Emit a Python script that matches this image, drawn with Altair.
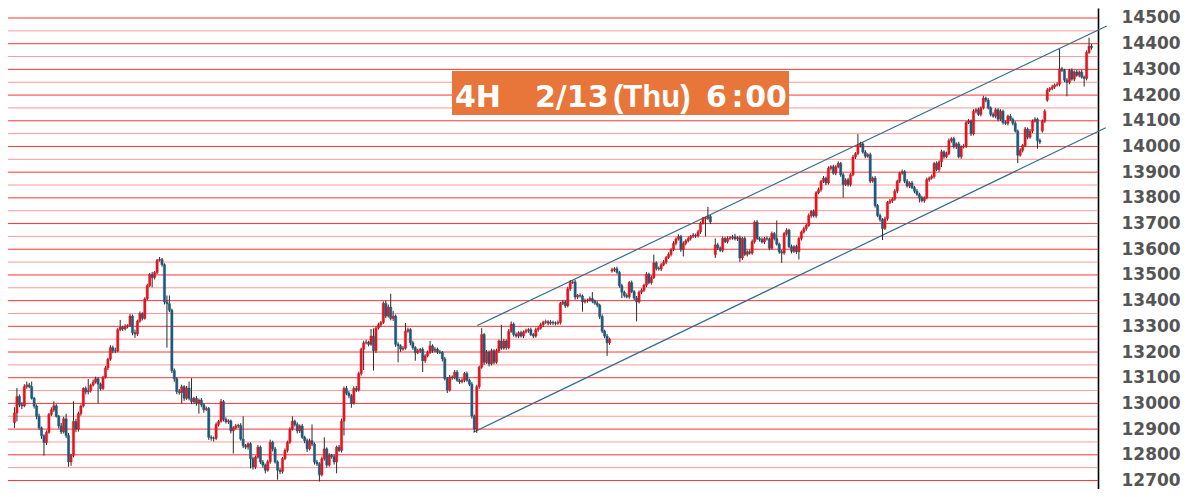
import altair as alt
import pandas as pd

# ---------------- data (4H candles) ----------------
closes = [
    12963, 13027, 12995, 12990, 13065, 13072, 13065, 13020, 12990, 12950, 12905, 12874, 12848, 12887, 12957, 12975, 12991, 12950, 12912, 12889,
    12940, 12875, 12772, 12798, 12930, 12900, 12960, 12990, 13058, 13045, 13050, 13071, 13083, 13096, 13075, 13058, 13102, 13138, 13172, 13217,
    13205, 13204, 13287, 13296, 13290, 13300, 13303, 13340, 13275, 13270, 13320, 13350, 13331, 13407, 13458, 13502, 13490, 13509, 13557, 13560,
    13540, 13395, 13388, 13363, 13128, 13096, 13046, 13042, 13065, 13020, 13060, 13020, 13007, 13020, 13001, 13013, 12995, 12976, 12980, 12868,
    12865, 12864, 12918, 12930, 13007, 12938, 12928, 12932, 12893, 12905, 12912, 12915, 12861, 12836, 12830, 12843, 12785, 12753, 12791, 12830,
    12772, 12760, 12740, 12773, 12849, 12823, 12772, 12740, 12735, 12785, 12817, 12849, 12899, 12931, 12918, 12893, 12912, 12868, 12855, 12823,
    12855, 12842, 12772, 12765, 12722, 12785, 12823, 12760, 12798, 12793, 12772, 12830, 12817, 12931, 13058, 13040, 13030, 13001, 13058, 13052,
    13116, 13211, 13236, 13238, 13230, 13262, 13205, 13293, 13306, 13315, 13389, 13340, 13375, 13331, 13340, 13230, 13224, 13211, 13215, 13281,
    13287, 13236, 13217, 13198, 13205, 13210, 13166, 13185, 13198, 13224, 13205, 13211, 13200, 13198, 13173, 13097, 13052, 13103, 13100, 13122,
    13090, 13084, 13090, 13116, 13090, 13075, 12951, 12900, 13065, 13141, 13268, 13160, 13200, 13154, 13205, 13160, 13205, 13243, 13215, 13243,
    13217, 13281, 13309, 13268, 13262, 13275, 13262, 13278, 13283, 13287, 13268, 13262, 13287, 13293, 13306, 13316, 13318, 13312, 13316, 13313,
    13312, 13315, 13389, 13395, 13380, 13446, 13471, 13473, 13414, 13420, 13418, 13395, 13400, 13402, 13408, 13398, 13390, 13382, 13338, 13281,
    13262, 13236, 13250, 13520, 13524, 13510, 13458, 13433, 13420, 13415, 13470, 13435, 13410, 13395, 13433, 13440, 13460, 13503, 13470, 13490,
    13547, 13525, 13523, 13540, 13550, 13568, 13580, 13598, 13623, 13640, 13650, 13598, 13623, 13633, 13642, 13650, 13655, 13652, 13668, 13702,
    13718, 13720, 13727, 13706, None, 13617, 13605, 13596, 13642, 13630, 13642, 13645, 13648, 13640, 13645, 13566, 13642, 13580, 13590, 13585,
    13630, 13706, 13642, 13638, 13628, 13642, 13640, 13604, 13661, 13642, 13620, 13590, 13585, 13661, 13674, 13610, 13592, 13610, 13590, 13642,
    13667, 13680, 13693, 13731, 13747, 13730, 13820, 13832, 13864, 13877, 13858, 13915, 13921, 13896, 13921, 13934, 13890, 13852, 13870, 13852,
    13890, 13959, 13972, 14004, 14010, 13978, 13962, 13968, 13865, 13877, 13770, 13731, 13715, 13681, 13719, 13782, 13788, 13795, 13826, 13865,
    13896, 13902, 13865, 13846, 13858, 13840, 13826, 13814, 13800, 13789, 13800, 13871, 13877, 13883, 13934, 13910, 13940, 13979, 13960, 13972,
    14023, 14030, 13998, 14010, 13960, 13998, 14002, 14093, 14099, 14049, 14137, 14143, 14125, 14150, 14188, 14180, 14150, 14125, 14118, 14143,
    14106, 14137, 14093, 14090, 14118, 14106, 14090, 14060, 13966, 13985, 14004, 14068, 14036, 14060, 14099, 14106, 14023, 14017, 14099, 14137,
    14220, 14225, 14232, 14239, 14242, 14302, 14296, 14258, 14250, 14296, 14262, 14290, 14277, 14290, 14270, 14265, 14366, 14391, 14385,
]

wick_up = [
    22, 33, 8, 10, 10, 13, 8, 20, 5, 6, 10, 5, 6, 8, 6, 10, 17, 6, 5, 12,
    8, 20, 10, 6, 78, 10, 8, 6, 5, 8, 45, 6, 10, 8, 5, 6, 5, 8, 6, 10,
    8, 12, 6, 29, 6, 8, 5, 8, 6, 12, 6, 8, 5, 6, 8, 6, 10, 6, 5, 10,
    6, 5, 25, 32, 6, 8, 6, 10, 8, 6, 8, 25, 78, 6, 8, 6, 8, 6, 8, 6,
    8, 6, 8, 6, 10, 6, 8, 6, 5, 6, 8, 6, 8, 89, 6, 5, 6, 8, 6, 8,
    6, 8, 6, 8, 10, 6, 8, 6, 8, 6, 8, 6, 8, 19, 6, 8, 6, 8, 6, 8,
    8, 63, 6, 8, 6, 8, 45, 6, 8, 6, 8, 6, 8, 10, 8, 10, 8, 6, 8, 10,
    8, 6, 8, 10, 6, 28, 30, 6, 8, 6, 8, 12, 10, 52, 20, 6, 8, 6, 8, 32,
    8, 6, 8, 6, 8, 6, 8, 6, 8, 19, 6, 8, 6, 8, 6, 8, 6, 8, 6, 8,
    8, 6, 8, 6, 8, 6, 8, 6, 8, 6, 25, 6, 8, 6, 8, 6, 8, 6, 63, 8,
    6, 8, 10, 6, 8, 6, 8, 6, 8, 6, 8, 6, 8, 6, 8, 6, 8, 6, 8, 6,
    6, 8, 6, 8, 6, 8, 9, 6, 8, 6, 8, 6, 8, 6, 8, 25, 6, 8, 6, 8,
    6, 8, 6, 8, 6, 8, 6, 8, 6, 8, 6, 8, 6, 8, 6, 8, 6, 8, 6, 8,
    32, 6, 8, 6, 8, 6, 8, 6, 8, 6, 8, 6, 8, 6, 8, 6, 8, 6, 8, 6,
    8, 6, 38, 6, 0, 25, 8, 6, 8, 6, 8, 6, 8, 12, 6, 8, 6, 8, 6, 8,
    8, 6, 8, 6, 8, 6, 8, 6, 8, 6, 70, 6, 8, 6, 8, 6, 8, 6, 8, 6,
    6, 8, 6, 8, 6, 8, 6, 8, 6, 8, 6, 8, 6, 8, 6, 8, 6, 8, 6, 8,
    6, 8, 6, 44, 8, 6, 8, 6, 8, 6, 8, 6, 8, 6, 8, 6, 8, 6, 8, 6,
    6, 8, 6, 8, 6, 8, 6, 8, 6, 8, 6, 8, 6, 8, 6, 8, 6, 8, 6, 8,
    8, 6, 8, 6, 8, 6, 8, 6, 8, 6, 8, 6, 8, 6, 9, 6, 8, 6, 8, 6,
    6, 8, 6, 8, 6, 8, 6, 8, 6, 8, 6, 8, 6, 8, 6, 8, 6, 8, 6, 8,
    8, 6, 8, 6, 8, 77, 8, 6, 8, 6, 8, 6, 8, 6, 8, 6, 8, 32, 8,
]

wick_dn = [
    20, 33, 10, 12, 5, 8, 6, 5, 10, 12, 8, 12, 51, 10, 5, 6, 8, 5, 10, 8,
    6, 10, 18, 15, 8, 12, 10, 8, 6, 10, 10, 8, 5, 6, 75, 8, 6, 5, 8, 6,
    10, 8, 5, 6, 8, 6, 8, 6, 10, 15, 8, 6, 8, 5, 6, 5, 38, 8, 6, 5,
    8, 10, 171, 8, 10, 12, 10, 8, 42, 10, 6, 8, 10, 8, 10, 41, 10, 12, 6, 10,
    10, 12, 6, 8, 5, 8, 6, 8, 10, 88, 6, 8, 6, 10, 8, 10, 38, 10, 8, 6,
    8, 10, 12, 6, 8, 10, 6, 37, 10, 8, 6, 8, 6, 5, 8, 10, 8, 6, 10, 12,
    6, 8, 10, 8, 26, 6, 8, 10, 6, 8, 10, 44, 6, 8, 56, 8, 10, 18, 6, 8,
    6, 8, 81, 6, 8, 6, 77, 8, 6, 8, 6, 8, 6, 8, 10, 10, 64, 10, 6, 6,
    6, 10, 8, 32, 6, 8, 44, 8, 6, 6, 8, 6, 8, 6, 10, 8, 12, 6, 8, 6,
    6, 8, 6, 8, 6, 8, 10, 12, 15, 8, 6, 10, 6, 10, 6, 8, 6, 8, 6, 6,
    8, 6, 6, 8, 6, 8, 6, 8, 6, 8, 6, 8, 6, 8, 6, 8, 6, 8, 6, 8,
    8, 6, 8, 6, 8, 6, 8, 6, 10, 8, 6, 38, 6, 8, 6, 8, 6, 8, 10, 8,
    8, 51, 8, 6, 8, 6, 8, 23, 8, 6, 8, 6, 8, 76, 6, 8, 6, 8, 6, 8,
    6, 8, 6, 8, 6, 8, 6, 8, 6, 8, 6, 8, 26, 8, 6, 8, 6, 8, 6, 8,
    6, 68, 6, 8, 0, 13, 8, 6, 8, 6, 8, 6, 8, 6, 8, 16, 8, 6, 8, 6,
    6, 8, 6, 8, 6, 8, 6, 8, 6, 8, 6, 8, 38, 6, 8, 6, 8, 6, 8, 30,
    8, 6, 8, 6, 8, 6, 8, 6, 8, 6, 8, 6, 8, 6, 8, 6, 8, 51, 6, 8,
    8, 6, 8, 6, 8, 6, 8, 6, 8, 6, 8, 6, 8, 45, 6, 8, 6, 8, 6, 8,
    8, 6, 8, 6, 8, 6, 8, 6, 18, 6, 8, 6, 8, 6, 8, 6, 8, 20, 8, 6,
    6, 8, 6, 8, 6, 8, 6, 8, 6, 8, 6, 8, 6, 8, 6, 8, 6, 8, 6, 8,
    8, 6, 8, 6, 8, 6, 8, 6, 31, 6, 8, 6, 8, 6, 8, 6, 32, 8, 6, 8,
    6, 8, 6, 8, 6, 8, 6, 8, 55, 8, 6, 8, 6, 8, 6, 32, 8, 6, 8,
]

# opens after session gaps
gap_open = {0: 12925, 243: 13515, 285: 13579, 418: 14060, 420: 14180}

# price levels
tick_labels = [12700, 12800, 12900, 13000, 13100, 13200, 13300, 13400, 13500,
               13600, 13700, 13800, 13900, 14000, 14100, 14200, 14300, 14400, 14500]
half_levels = [12750, 12850, 12950, 13050, 13150, 13250, 13350, 13450, 13550,
               13650, 13750, 13850, 13950, 14050, 14150, 14250, 14350, 14450]

# trend channel (candle index, price)
channel_name = ["upper", "upper", "lower", "lower"]
channel_idx = [188.2, 444.2, 186.6, 443.8]
channel_px = [13303, 14469, 12888, 14073]

# ---------------- build tables ----------------
rows = []
prev = None
for i, c in enumerate(closes):
    if c is None:
        prev = None
        continue
    o = gap_open.get(i, prev)
    rows.append({
        "i": i, "o": o, "c": c,
        "h": max(o, c) + wick_up[i],
        "l": min(o, c) - wick_dn[i],
        "dir": "up" if c >= o else "down",
    })
    prev = c
candles = pd.DataFrame(rows)

chan = pd.DataFrame({"ch": channel_name, "i": channel_idx, "p": channel_px})
grid_major = pd.DataFrame({"v": tick_labels})
grid_minor = pd.DataFrame({"v": half_levels})

RED = "#e6141c"
BLUE = "#1b5b7e"

xs = alt.Scale(domain=[-0.6, 438.6], nice=False, zero=False)
ys = alt.Scale(domain=[12666.9, 14538.9], nice=False, zero=False)
yaxis = alt.Axis(orient="right", values=tick_labels, format="d", title=None,
                 labelFont="DejaVu Sans", labelFontWeight="bold", labelFontSize=17,
                 labelColor="#555555", labelPadding=23, ticks=False, tickSize=0,
                 domain=True, domainColor="#000000", domainWidth=1.6, grid=False,
                 labelAlign="left", labelOverlap=False, labelFlush=False)

minor = alt.Chart(grid_minor).mark_rule(color="#ff9898", strokeWidth=1).encode(
    y=alt.Y("v:Q", scale=ys, axis=yaxis))
major = alt.Chart(grid_major).mark_rule(color="#ff3434", strokeWidth=1).encode(
    y=alt.Y("v:Q", scale=ys, axis=yaxis))

channel = alt.Chart(chan).mark_line(color="#2f6f8f", strokeWidth=1.2, clip=False).encode(
    x=alt.X("i:Q", scale=xs, axis=None),
    y=alt.Y("p:Q", scale=ys, axis=yaxis),
    detail="ch:N")

wicks = alt.Chart(candles).mark_rule(color="#2a2a2a", strokeWidth=1).encode(
    x=alt.X("i:Q", scale=xs, axis=None),
    y=alt.Y("l:Q", scale=ys, axis=yaxis),
    y2="h:Q")

bodies = alt.Chart(candles).mark_bar(size=2.2, strokeWidth=0.5).encode(
    x=alt.X("i:Q", scale=xs, axis=None),
    y=alt.Y("o:Q", scale=ys, axis=yaxis),
    y2="c:Q",
    color=alt.Color("dir:N", scale=alt.Scale(domain=["up", "down"], range=[RED, BLUE]), legend=None),
    stroke=alt.Stroke("dir:N", scale=alt.Scale(domain=["up", "down"], range=[RED, BLUE]), legend=None))

one = alt.Data(values=[{"k": 1}])
box = alt.Chart(one).mark_rect(color="#e8753a").encode(
    x=alt.value(444), x2=alt.value(781), y=alt.value(63), y2=alt.value(107))


def label(txt, x, font, size, align="left"):
    return alt.Chart(one).mark_text(font=font, fontWeight="bold", fontSize=size,
                                    color="white", align=align, baseline="alphabetic").encode(
        x=alt.value(x), y=alt.value(98.5), text=alt.value(txt))


texts = [
    label("4H", 447, "DejaVu Sans", 30),
    label("2/13", 527, "DejaVu Sans", 30),
    label("(Thu)", 605, "Liberation Sans", 31),
    label("6", 698, "DejaVu Sans", 30),
    label(":", 729.5, "DejaVu Sans", 30, "center"),
    label("00", 779, "DejaVu Sans", 30, "right"),
]

chart = alt.layer(minor, major, channel, wicks, bodies, box, *texts).properties(
    width=1090, height=481,
    autosize=alt.AutoSizeParams(type="none"),
    padding={"left": 0, "top": 0, "right": 83, "bottom": 0},
    background="white",
).configure_view(stroke=None)

chart.save("out.html", embed_options={"renderer": "svg", "actions": False})
